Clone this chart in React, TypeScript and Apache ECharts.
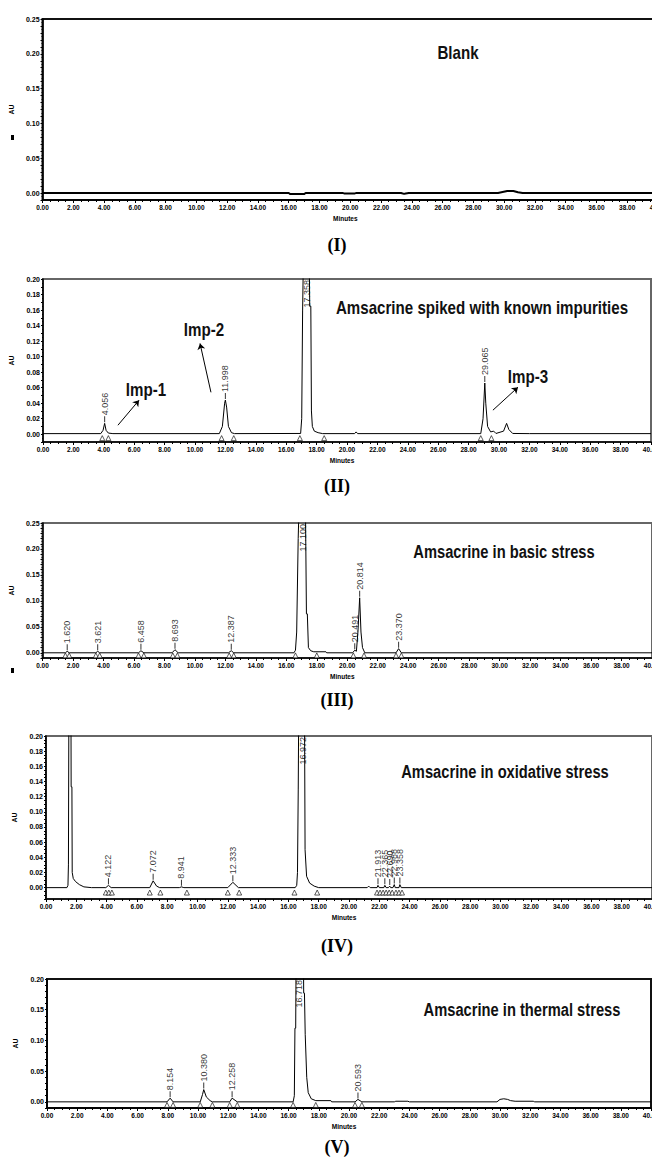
import React, { useEffect, useRef } from "react";
import * as echarts from "echarts";

type Pt = [number, number];
type Peak = [number, number, string];

// ---------- data ----------
const blankTrace: Pt[] = [
  [0, 0], [16.0, 0], [16.1, -0.0015], [17.0, -0.0015], [17.1, 0], [19.5, 0], [19.6, -0.0005],
  [20.3, -0.0005], [20.4, 0], [23.3, 0], [23.5, -0.0012], [23.6, -0.0006], [23.8, 0],
  [29.6, 0], [29.9, 0.0015], [30.2, 0.003], [30.6, 0.003], [30.9, 0.0012], [31.2, 0], [40, 0],
];

const spikedTrace: Pt[] = [
  [0, 0.0008], [3.8, 0.0008], [3.95, 0.005], [4.056, 0.014], [4.15, 0.005], [4.3, 0.0015], [4.6, 0.0008],
  [11.6, 0.0008], [11.8, 0.01], [11.95, 0.04], [11.998, 0.044], [12.08, 0.035], [12.2, 0.01], [12.4, 0.002], [12.6, 0.0008],
  [16.95, 0.001], [17.02, 0.02], [17.08, 0.16], [17.15, 0.25], [17.5, 0.25], [17.55, 0.165], [17.62, 0.165],
  [17.66, 0.03], [17.72, 0.01], [17.85, 0.004], [18.1, 0.002], [18.4, 0.0008],
  [20.5, 0.0008], [20.6, 0.003], [20.7, 0.0008],
  [28.8, 0.0008], [28.95, 0.02], [29.065, 0.066], [29.13, 0.04], [29.25, 0.01], [29.45, 0.003], [29.65, 0.004], [29.8, 0.001],
  [30.3, 0.004], [30.5, 0.014], [30.65, 0.006], [30.9, 0.001], [32.0, 0.0008], [40, 0.0008],
];
const spikedPeaks: Peak[] = [
  [4.056, 0.014, "4.056"], [11.998, 0.044, "11.998"], [29.065, 0.066, "29.065"],
];
const spikedMain: Peak = [17.358, 0.2, "17.358"];
const spikedMarks: number[] = [3.9, 4.3, 11.75, 12.55, 16.9, 18.5, 28.8, 29.5];
const impArrows: [Pt, Pt][] = [
  [[4.93, 0.0116], [6.32, 0.0439]],
  [[11.05, 0.054], [10.33, 0.117]],
  [[29.6, 0.031], [31.25, 0.0606]],
];
const impNames: string[] = ["Imp-1", "Imp-2", "Imp-3"];

const basicTrace: Pt[] = [
  [0, 0], [1.5, 0], [1.62, 0.003], [1.75, 0], [3.5, 0], [3.621, 0.003], [3.75, 0], [6.3, 0], [6.458, 0.004], [6.65, 0],
  [8.5, 0], [8.693, 0.006], [8.9, 0], [12.2, 0], [12.387, 0.004], [12.55, 0],
  [16.5, 0], [16.6, 0.005], [16.68, 0.04], [16.72, 0.04], [16.78, 0.22], [16.85, 0.3], [17.25, 0.3], [17.32, 0.075],
  [17.38, 0.075], [17.45, 0.01], [17.6, 0.004], [17.8, 0.002], [18.6, 0.002], [18.65, 0],
  [20.35, 0], [20.491, 0.005], [20.6, 0.003], [20.7, 0.04], [20.814, 0.106], [20.9, 0.04], [21.0, 0.01], [21.15, 0],
  [23.2, 0], [23.37, 0.008], [23.55, 0], [40, 0],
];
const basicPeaks: Peak[] = [
  [1.62, 0.003, "1.620"], [3.621, 0.003, "3.621"], [6.458, 0.004, "6.458"], [8.693, 0.006, "8.693"],
  [12.387, 0.004, "12.387"], [20.491, 0.005, "20.491"], [20.814, 0.106, "20.814"], [23.37, 0.008, "23.370"],
];
const basicMain: Peak = [17.1, 0.25, "17.100"];
const basicMarks: number[] = [1.5, 1.75, 3.5, 3.75, 6.3, 6.65, 8.55, 8.85, 12.25, 12.55, 16.6, 18.0, 20.4, 21.1, 23.2, 23.55];

const oxTrace: Pt[] = [
  [0, 0], [1.38, 0], [1.45, 0.003], [1.48, 0.03], [1.5, 0.03], [1.52, 0.3], [1.64, 0.3], [1.66, 0.133], [1.71, 0.133],
  [1.73, 0.02], [1.8, 0.012], [1.95, 0.008], [2.2, 0.004], [2.5, 0.001], [3.0, 0],
  [3.95, 0], [4.122, 0.003], [4.3, 0], [6.85, 0], [7.072, 0.009], [7.3, 0.002], [7.5, 0], [8.8, 0], [8.941, 0.001], [9.1, 0],
  [12.0, 0], [12.333, 0.007], [12.7, 0],
  [16.45, 0], [16.55, 0.003], [16.6, 0.02], [16.65, 0.13], [16.7, 0.3], [17.05, 0.3], [17.1, 0.05], [17.2, 0.015],
  [17.4, 0.006], [17.7, 0.002], [18.0, 0],
  [21.2, 0], [21.3, 0.002], [21.4, 0], [21.85, 0], [21.913, 0.003], [22.0, 0], [22.3, 0], [22.365, 0.003], [22.45, 0],
  [22.6, 0], [22.69, 0.002], [22.75, 0], [22.9, 0], [22.988, 0.004], [23.05, 0], [23.3, 0], [23.358, 0.004], [23.45, 0], [40, 0],
];
const oxPeaks: Peak[] = [
  [4.122, 0.003, "4.122"], [7.072, 0.009, "7.072"], [8.941, 0.001, "8.941"], [12.333, 0.007, "12.333"],
  [21.913, 0.003, "21.913"], [22.365, 0.003, "22.365"], [22.69, 0.002, "22.690"], [22.988, 0.004, "22.988"],
  [23.358, 0.004, "23.358"],
];
const oxMain: Peak = [16.972, 0.2, "16.972"];
const oxMarks: number[] = [3.95, 4.15, 4.35, 6.85, 7.55, 9.3, 12.0, 12.75, 16.4, 17.9, 21.85, 22.05, 22.25, 22.45, 22.65, 22.85, 23.1, 23.3, 23.5];

const thermalTrace: Pt[] = [
  [0, 0], [7.95, 0], [8.154, 0.006], [8.35, 0], [10.15, 0], [10.3, 0.012], [10.38, 0.02], [10.55, 0.008], [10.8, 0.002], [10.95, 0],
  [12.1, 0], [12.258, 0.006], [12.6, 0],
  [16.3, 0], [16.38, 0.01], [16.42, 0.12], [16.47, 0.12], [16.5, 0.25], [16.98, 0.25], [17.0, 0.177], [17.05, 0.177],
  [17.1, 0.11], [17.2, 0.04], [17.3, 0.015], [17.5, 0.005], [17.8, 0.002], [18.8, 0.002], [18.85, 0],
  [20.4, 0], [20.593, 0.004], [20.85, 0], [23.0, 0], [23.1, 0.001], [23.9, 0.001], [24.0, 0],
  [29.8, 0], [30.0, 0.004], [30.25, 0.005], [30.5, 0.004], [30.7, 0.002], [31.0, 0.001], [32.2, 0.001], [32.3, 0], [40, 0],
];
const thermalPeaks: Peak[] = [
  [8.154, 0.006, "8.154"], [10.38, 0.02, "10.380"], [12.258, 0.006, "12.258"], [20.593, 0.004, "20.593"],
];
const thermalMain: Peak = [16.718, 0.2, "16.718"];
const thermalMarks: number[] = [7.95, 8.35, 10.15, 10.95, 12.1, 12.6, 16.3, 17.8, 20.4, 20.85];

const titles: string[] = [
  "Blank",
  "Amsacrine spiked with known impurities",
  "Amsacrine in basic stress",
  "Amsacrine in oxidative stress",
  "Amsacrine in thermal stress",
];
const romans: string[] = ["(I)", "(II)", "(III)", "(IV)", "(V)"];

const SANS = "'Liberation Sans', Arial, sans-serif";
const SERIF = "'Liberation Serif', 'Times New Roman', serif";

export default function App() {
  const ref = useRef<HTMLDivElement>(null);

  useEffect(() => {
    if (!ref.current) return;
    const chart = echarts.init(ref.current, null, { renderer: "svg" });

    const panels = [
      { trace: blankTrace, peaks: [] as Peak[], main: null as Peak | null, marks: [] as number[], markY: -0.004,
        min: -0.01, max: 0.25, step: 0.01, major: 0.05,
        left: 37, width: 621, top: 19, height: 181, border: "#111", lw: 2,
        tx: 458, ty: 53, tsize: 18, ry: 245 },
      { trace: spikedTrace, peaks: spikedPeaks, main: spikedMain, marks: spikedMarks, markY: -0.005,
        min: -0.01, max: 0.2, step: 0.01, major: 0.02,
        left: 43, width: 608, top: 279, height: 163, border: "#666", lw: 1,
        tx: 482, ty: 308, tsize: 18, ry: 486 },
      { trace: basicTrace, peaks: basicPeaks, main: basicMain, marks: basicMarks, markY: -0.005,
        min: -0.01, max: 0.25, step: 0.01, major: 0.05,
        left: 42, width: 610, top: 523, height: 135, border: "#666", lw: 1,
        tx: 504, ty: 552, tsize: 17.5, ry: 700 },
      { trace: oxTrace, peaks: oxPeaks, main: oxMain, marks: oxMarks, markY: -0.0065,
        min: -0.015, max: 0.2, step: 0.005, major: 0.02,
        left: 46, width: 606, top: 736, height: 163, border: "#666", lw: 1,
        tx: 505, ty: 772, tsize: 17.5, ry: 946 },
      { trace: thermalTrace, peaks: thermalPeaks, main: thermalMain, marks: thermalMarks, markY: -0.005,
        min: -0.01, max: 0.2, step: 0.01, major: 0.05,
        left: 47, width: 604, top: 979, height: 129, border: "#111", lw: 1,
        tx: 522, ty: 1010, tsize: 17.5, ry: 1147 },
    ];

    const tickFont = { fontFamily: SANS, fontWeight: "bold" as const, color: "#000" };

    const grid = panels.map((p) => ({
      left: p.left, top: p.top, width: p.width, height: p.height,
      show: true, borderColor: p.border, borderWidth: 2, backgroundColor: "transparent",
    }));

    const xAxis = panels.map((p, i) => ({
      type: "value" as const, gridIndex: i, min: 0, max: 40, interval: 2,
      axisLine: { onZero: false, lineStyle: { color: "#000", width: 1.5 } },
      axisTick: { show: true, length: 3, lineStyle: { color: "#000", width: 1 } },
      minorTick: { show: true, splitNumber: 4, length: 2, lineStyle: { color: "#000", width: 1 } },
      splitLine: { show: false },
      axisLabel: { ...tickFont, fontSize: 6.5, margin: 4, formatter: (v: number) => v.toFixed(2) },
      name: "Minutes", nameLocation: "middle" as const, nameGap: 15,
      nameTextStyle: { ...tickFont, fontSize: 6.5, padding: [0, 10, 0, 0] },
    }));

    const yAxis = panels.map((p, i) => {
      const majorK = Math.round(p.major * 1000);
      return {
        type: "value" as const, gridIndex: i, min: p.min, max: p.max, interval: p.step,
        axisLine: { show: true, onZero: false, lineStyle: { color: "#000", width: 1.5 } },
        axisTick: { show: true, length: 2, lineStyle: { color: "#000", width: 1 } },
        minorTick: { show: true, splitNumber: 2, length: 1, lineStyle: { color: "#000", width: 1 } },
        splitLine: { show: false },
        axisLabel: {
          ...tickFont, fontSize: 7, margin: 3,
          formatter: (v: number) => {
            const r = Math.round(v * 1000);
            return r >= 0 && r % majorK === 0 ? v.toFixed(2) : "";
          },
        },
        name: "AU", nameLocation: "middle" as const, nameGap: 22, nameRotate: 90,
        nameTextStyle: { ...tickFont, fontSize: 7 },
      };
    });

    const series: any[] = [];
    panels.forEach((p, i) => {
      const trace: any = {
        type: "line", xAxisIndex: i, yAxisIndex: i, data: p.trace, showSymbol: false, symbol: "none",
        lineStyle: { color: "#000", width: p.lw }, clip: true, z: 3, silent: true,
      };
      if (i === 1) {
        trace.markLine = {
          silent: true, symbol: ["none", "arrow"], symbolSize: 6,
          lineStyle: { color: "#000", width: 1, type: "solid" }, label: { show: false },
          data: impArrows.map((a) => [{ coord: a[0] }, { coord: a[1] }]),
        };
      }
      series.push(trace);

      if (p.peaks.length) {
        series.push({
          type: "scatter", xAxisIndex: i, yAxisIndex: i, silent: true, z: 4,
          symbol: "rect", symbolSize: [1, 6], symbolOffset: [0, -4],
          itemStyle: { color: "#000" },
          data: p.peaks.map((k) => ({ value: [k[0], k[1]], name: k[2] })),
          label: {
            show: true, formatter: "{b}", position: "top", distance: 1, rotate: 90,
            align: "left", verticalAlign: "middle", fontSize: 9, color: "#000", fontFamily: SANS,
          },
        });
      }
      if (p.main) {
        series.push({
          type: "scatter", xAxisIndex: i, yAxisIndex: i, silent: true, z: 5, clip: false,
          symbolSize: 0,
          data: [{ value: [p.main[0], p.max], name: p.main[2] }],
          label: {
            show: true, formatter: "{b}", position: "bottom", distance: 1, rotate: 90,
            align: "right", verticalAlign: "middle", fontSize: 9, color: "#000", fontFamily: SANS,
          },
        });
      }
      if (p.marks.length) {
        series.push({
          type: "scatter", xAxisIndex: i, yAxisIndex: i, silent: true, z: 4,
          symbol: "triangle", symbolSize: 5,
          itemStyle: { color: "#fff", borderColor: "#000", borderWidth: 0.8 },
          data: p.marks.map((t) => [t, p.markY]),
        });
      }
    });

    const graphic: any[] = [];
    panels.forEach((p, i) => {
      graphic.push({
        type: "text", x: p.tx, y: p.ty, scaleX: 0.84, silent: true,
        style: {
          text: titles[i], fontSize: p.tsize, fontWeight: "bold", fontFamily: SANS,
          fill: "#111", align: "center", verticalAlign: "middle",
        },
      });
      graphic.push({
        type: "text", x: 337, y: p.ry, silent: true,
        style: {
          text: romans[i], fontSize: 18, fontWeight: "bold", fontFamily: SERIF,
          fill: "#000", align: "center", verticalAlign: "middle",
        },
      });
    });
    const impPos: Pt[] = [[146, 390], [204, 330], [528, 377]];
    impNames.forEach((n, k) => {
      graphic.push({
        type: "text", x: impPos[k][0], y: impPos[k][1], scaleX: 0.84, silent: true,
        style: {
          text: n, fontSize: 18, fontWeight: "bold", fontFamily: SANS,
          fill: "#111", align: "center", verticalAlign: "middle",
        },
      });
    });
    graphic.push({ type: "rect", shape: { x: 11, y: 135, width: 3, height: 5 }, style: { fill: "#000" }, silent: true });
    graphic.push({ type: "rect", shape: { x: 11, y: 668, width: 3, height: 5 }, style: { fill: "#000" }, silent: true });

    chart.setOption({
      animation: false,
      backgroundColor: "#fff",
      grid, xAxis, yAxis, series, graphic,
    });

    return () => chart.dispose();
  }, []);

  return (
    <div style={{ position: "absolute", left: 0, top: 0, width: 652, height: 1163, overflow: "hidden", background: "#fff" }}>
      <div ref={ref} style={{ width: 672, height: 1163 }} />
    </div>
  );
}
